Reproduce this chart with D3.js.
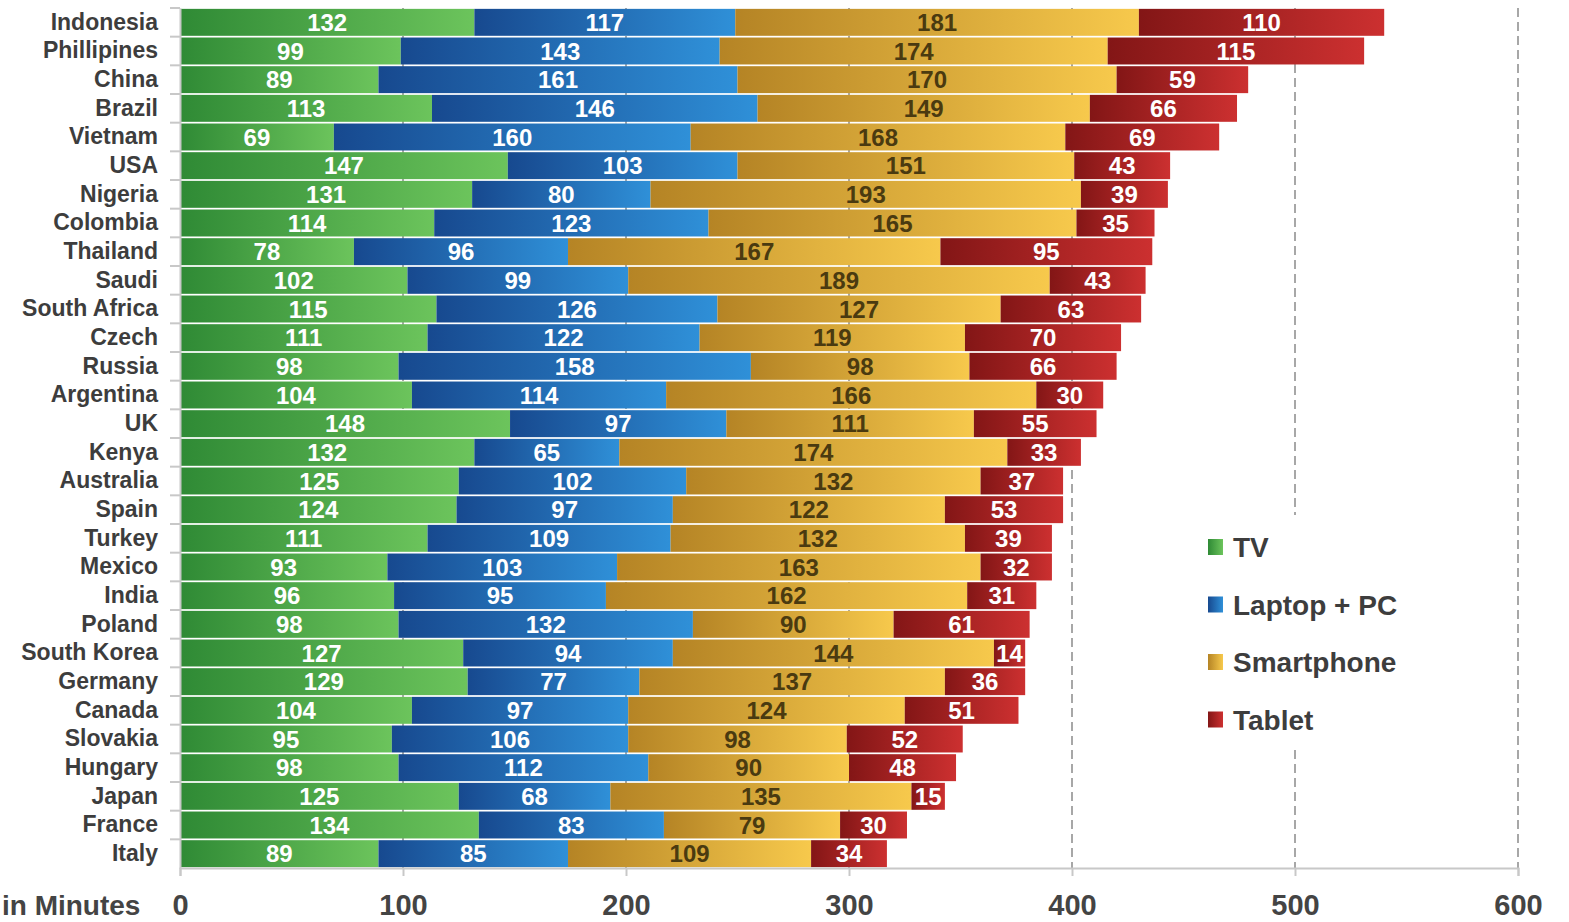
<!DOCTYPE html>
<html>
<head>
<meta charset="utf-8">
<script src="https://cdn.jsdelivr.net/npm/d3@7"></script>
<style>
  body { margin: 0; background: #fff; }
  text { font-family: "Liberation Sans", Arial, sans-serif; }
</style>
</head>
<body>
<div class="canvas"></div>
<script>
// data
const countries = ['Indonesia', 'Phillipines', 'China', 'Brazil', 'Vietnam', 'USA', 'Nigeria', 'Colombia',
    'Thailand', 'Saudi', 'South Africa', 'Czech', 'Russia', 'Argentina', 'UK', 'Kenya', 'Australia', 'Spain',
    'Turkey', 'Mexico', 'India', 'Poland', 'South Korea', 'Germany', 'Canada', 'Slovakia', 'Hungary', 'Japan',
    'France', 'Italy'];
const tv = [132, 99, 89, 113, 69, 147, 131, 114, 78, 102, 115, 111, 98, 104, 148, 132, 125, 124, 111, 93, 96, 98, 127, 129, 104, 95, 98, 125, 134, 89];
const laptop = [117, 143, 161, 146, 160, 103, 80, 123, 96, 99, 126, 122, 158, 114, 97, 65, 102, 97, 109, 103, 95, 132, 94, 77, 97, 106, 112, 68, 83, 85];
const smartphone = [181, 174, 170, 149, 168, 151, 193, 165, 167, 189, 127, 119, 98, 166, 111, 174, 132, 122, 132, 163, 162, 90, 144, 137, 124, 98, 90, 135, 79, 109];
const tablet = [110, 115, 59, 66, 69, 43, 39, 35, 95, 43, 63, 70, 66, 30, 55, 33, 37, 53, 39, 32, 31, 61, 14, 36, 51, 52, 48, 15, 30, 34];
const seriesNames = ['TV', 'Laptop + PC', 'Smartphone', 'Tablet'];
const xTicks = [0, 100, 200, 300, 400, 500, 600];

const dims = { width: 1569, height: 922 };
const plot = { left: 180, right: 1518, top: 8, bottom: 868 };

// gradient stops per series (dark left -> light right)
const grads = [
    { id: 'g-tv', from: '#2f8a35', to: '#6cc45c', text: '#fff' },
    { id: 'g-laptop', from: '#17498f', to: '#2f90d8', text: '#fff' },
    { id: 'g-smart', from: '#b58425', to: '#f7c94c', text: '#4a3a10' },
    { id: 'g-tablet', from: '#831616', to: '#cc3030', text: '#fff' }
];

const table = countries.map((c, i) => ({
    country: c, TV: tv[i], 'Laptop + PC': laptop[i], Smartphone: smartphone[i], Tablet: tablet[i]
}));

const svg = d3.select('.canvas')
    .append('svg')
    .attr('width', dims.width)
    .attr('height', dims.height);

const defs = svg.append('defs');
grads.forEach(g => {
    const lg = defs.append('linearGradient').attr('id', g.id)
        .attr('x1', 0).attr('x2', 1).attr('y1', 0).attr('y2', 0);
    lg.append('stop').attr('offset', '0%').attr('stop-color', g.from);
    lg.append('stop').attr('offset', '100%').attr('stop-color', g.to);
});

const x = d3.scaleLinear().domain([0, 600]).range([plot.left, plot.right]);
const y = d3.scaleBand().domain(countries).range([plot.top, plot.bottom]).paddingInner(0.06).paddingOuter(0.03);

// dashed grid behind the bars
svg.append('g').selectAll('line')
    .data(xTicks.slice(1))
    .enter().append('line')
    .attr('x1', d => x(d)).attr('x2', d => x(d))
    .attr('y1', plot.top).attr('y2', plot.bottom)
    .attr('stroke', '#8a8a8a')
    .attr('stroke-width', 1.5)
    .attr('stroke-dasharray', '9,5');

const stack = d3.stack().keys(seriesNames);
const layers = stack(table);

const graph = svg.append('g');
const layerG = graph.selectAll('g.layer')
    .data(layers)
    .enter().append('g')
    .attr('class', 'layer');

layerG.selectAll('rect')
    .data(d => d)
    .enter().append('rect')
    .attr('x', d => x(d[0]))
    .attr('y', d => y(d.data.country))
    .attr('width', d => x(d[1]) - x(d[0]))
    .attr('height', y.bandwidth())
    .attr('fill', function () { return `url(#${grads[d3.select(this.parentNode).datum().index].id})`; });

// value labels
layerG.each(function (layer) {
    const g = grads[layer.index];
    d3.select(this).selectAll('text')
        .data(layer)
        .enter().append('text')
        .attr('x', d => (x(d[0]) + x(d[1])) / 2)
        .attr('y', d => y(d.data.country) + y.bandwidth() / 2)
        .attr('dy', '0.36em')
        .attr('text-anchor', 'middle')
        .attr('font-family', '"Liberation Sans Narrow", "DejaVu Sans Condensed", sans-serif')
        .attr('font-weight', 'bold')
        .attr('font-size', 24)
        .attr('fill', g.text)
        .text(d => d[1] - d[0]);
});

// axes
const xAxis = d3.axisBottom(x).tickValues(xTicks).tickSize(8).tickPadding(18);
const xg = svg.append('g')
    .attr('transform', `translate(0, ${plot.bottom})`)
    .call(xAxis);
xg.select('.domain').attr('stroke', '#c8c8c8').attr('stroke-width', 2);
xg.selectAll('.tick line').attr('stroke', '#c8c8c8').attr('stroke-width', 2);
xg.selectAll('.tick text')
    .attr('font-family', '"Liberation Sans", Arial, sans-serif')
    .attr('font-size', 29)
    .attr('font-weight', 'bold')
    .attr('fill', '#444');

const yAxis = d3.axisLeft(y).tickSize(0).tickPadding(22);
const yg = svg.append('g')
    .attr('transform', `translate(${plot.left}, 0)`)
    .call(yAxis);
yg.select('.domain').attr('stroke', '#c8c8c8').attr('stroke-width', 2);
yg.selectAll('.tick text')
    .attr('font-family', '"Liberation Sans", Arial, sans-serif')
    .attr('font-size', 23)
    .attr('font-weight', 'bold')
    .attr('fill', '#3d3d3d');

// small ticks at band boundaries
svg.append('g').selectAll('line')
    .data(countries)
    .enter().append('line')
    .attr('x1', plot.left - 10).attr('x2', plot.left)
    .attr('y1', d => y(d) - y.step() * y.paddingInner() / 2)
    .attr('y2', d => y(d) - y.step() * y.paddingInner() / 2)
    .attr('stroke', '#c8c8c8')
    .attr('stroke-width', 2);

svg.append('text')
    .attr('x', 2)
    .attr('y', plot.bottom + 47)
    .attr('text-anchor', 'start')
    .attr('font-size', 28)
    .attr('font-weight', 'bold')
    .attr('fill', '#444')
    .text('in Minutes');

// legend
const legendGroup = svg.append('g')
    .attr('transform', 'translate(1208, 547)');

legendGroup.append('rect')
    .attr('x', -18).attr('y', -32)
    .attr('width', 250).attr('height', 235)
    .attr('fill', '#fff');

const legendItems = legendGroup.selectAll('g.item')
    .data(seriesNames)
    .enter().append('g')
    .attr('class', 'item')
    .attr('transform', (d, i) => `translate(0, ${i * 57.5})`);

legendItems.append('rect')
    .attr('x', 0).attr('y', -8)
    .attr('width', 15).attr('height', 16)
    .attr('fill', (d, i) => `url(#${grads[i].id})`);

legendItems.append('text')
    .attr('x', 25)
    .attr('dy', '0.36em')
    .attr('font-size', 28)
    .attr('font-weight', 'bold')
    .attr('fill', '#3d3d3d')
    .text(d => d);
</script>
</body>
</html>
